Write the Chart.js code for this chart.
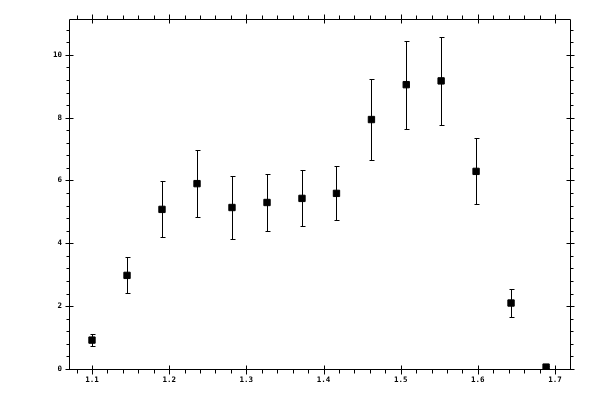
<!DOCTYPE html>
<html>
<head>
<meta charset="utf-8">
<script src="https://cdn.jsdelivr.net/npm/chart.js@4.4.1/dist/chart.umd.min.js"></script>
<style>
  html, body { margin: 0; padding: 0; background: #fff; }
  #wrap { width: 600px; height: 400px; }
</style>
</head>
<body>
<div id="wrap"><canvas id="chart" width="600" height="400"></canvas></div>
<script>
// Data
const xValues = [1.1, 1.1454, 1.1907, 1.2361, 1.2814, 1.3268, 1.3721, 1.4168, 1.4621, 1.5072, 1.5524, 1.5977, 1.643, 1.6884];
const yValues = [0.92, 2.98, 5.08, 5.90, 5.14, 5.30, 5.43, 5.59, 7.94, 9.05, 9.17, 6.29, 2.10, 0.06];
const yErrors = [0.20, 0.57, 0.89, 1.06, 1.00, 0.92, 0.89, 0.86, 1.30, 1.40, 1.40, 1.05, 0.44, 0.02];

// Tick labels
const xTicks = [1.1, 1.2, 1.3, 1.4, 1.5, 1.6, 1.7];
const yTicks = [0, 2, 4, 6, 8, 10];

const points = xValues.map((x, i) => ({ x: x, y: yValues[i], err: yErrors[i] }));

// Error bars, drawn under the markers
const errorBars = {
  id: "errorBars",
  beforeDatasetsDraw(chart) {
    const ctx = chart.ctx;
    const xs = chart.scales.x;
    const ys = chart.scales.y;
    ctx.save();
    ctx.strokeStyle = "#000";
    ctx.lineWidth = 1;
    points.forEach((p) => {
      const px = Math.round(xs.getPixelForValue(p.x)) + 0.5;
      const top = Math.round(ys.getPixelForValue(p.y + p.err)) + 0.5;
      const bot = Math.round(ys.getPixelForValue(p.y - p.err)) + 0.5;
      ctx.beginPath();
      ctx.moveTo(px, top);
      ctx.lineTo(px, bot);
      ctx.moveTo(px - 2, top);
      ctx.lineTo(px + 3, top);
      ctx.moveTo(px - 2, bot);
      ctx.lineTo(px + 3, bot);
      ctx.stroke();
    });
    ctx.restore();
  },
};

// Frame with mirrored ticks on all four sides
const frame = {
  id: "frame",
  afterDraw(chart) {
    const ctx = chart.ctx;
    const a = chart.chartArea;
    const xs = chart.scales.x;
    const ys = chart.scales.y;
    const L = Math.round(a.left) + 0.5;
    const R = Math.round(a.right) + 0.5;
    const T = Math.round(a.top) + 0.5;
    const B = Math.round(a.bottom) + 0.5;
    ctx.save();
    ctx.strokeStyle = "#000";
    ctx.lineWidth = 1;
    ctx.beginPath();
    ctx.rect(L, T, R - L, B - T);

    // x minor ticks (outward)
    for (let v = 1.08; v < xs.max; v += 0.02) {
      const px = Math.round(xs.getPixelForValue(v)) + 0.5;
      ctx.moveTo(px, B); ctx.lineTo(px, B + 4);
      ctx.moveTo(px, T); ctx.lineTo(px, T - 4);
    }
    // x major ticks (both sides)
    xTicks.forEach((v) => {
      const px = Math.round(xs.getPixelForValue(v)) + 0.5;
      ctx.moveTo(px, B - 4); ctx.lineTo(px, B + 5);
      ctx.moveTo(px, T + 4); ctx.lineTo(px, T - 5);
    });
    // y minor ticks (outward)
    for (let v = 0.4; v < ys.max; v += 0.4) {
      const py = Math.round(ys.getPixelForValue(v)) + 0.5;
      ctx.moveTo(L, py); ctx.lineTo(L - 3, py);
      ctx.moveTo(R, py); ctx.lineTo(R + 3, py);
    }
    // y major ticks (both sides)
    yTicks.forEach((v) => {
      const py = Math.round(ys.getPixelForValue(v)) + 0.5;
      ctx.moveTo(L - 4, py); ctx.lineTo(L + 4, py);
      ctx.moveTo(R + 4, py); ctx.lineTo(R - 4, py);
    });
    ctx.stroke();
    ctx.restore();
  },
};

const tickFont = { family: "DejaVu Sans Mono", size: 7.5, weight: "bold" };

new Chart(document.getElementById("chart"), {
  type: "scatter",
  data: {
    datasets: [
      {
        data: points,
        pointStyle: "rect",
        pointRadius: 4.5,
        pointBorderWidth: 1,
        backgroundColor: "#000",
        borderColor: "#000",
        pointHoverRadius: 4.5,
      },
    ],
  },
  options: {
    responsive: false,
    animation: false,
    layout: { padding: { top: 19, right: 30, left: 0, bottom: 0 } },
    plugins: {
      legend: { display: false },
      tooltip: { enabled: false },
    },
    scales: {
      x: {
        type: "linear",
        min: 1.0702,
        max: 1.7194,
        afterFit: (s) => { s.height = 31; },
        afterBuildTicks: (s) => { s.ticks = xTicks.map((v) => ({ value: v })); },
        grid: { display: false, drawTicks: false },
        border: { display: false },
        ticks: {
          color: "#000",
          font: tickFont,
          padding: 7,
          maxRotation: 0,
          callback: (v) => v.toFixed(1),
        },
      },
      y: {
        type: "linear",
        min: 0,
        max: 11.14,
        afterFit: (s) => { s.width = 69; },
        afterBuildTicks: (s) => { s.ticks = yTicks.map((v) => ({ value: v })); },
        grid: { display: false, drawTicks: false },
        border: { display: false },
        ticks: {
          color: "#000",
          font: tickFont,
          padding: 7,
          callback: (v) => String(v),
        },
      },
    },
  },
  plugins: [errorBars, frame],
});
</script>
</body>
</html>
